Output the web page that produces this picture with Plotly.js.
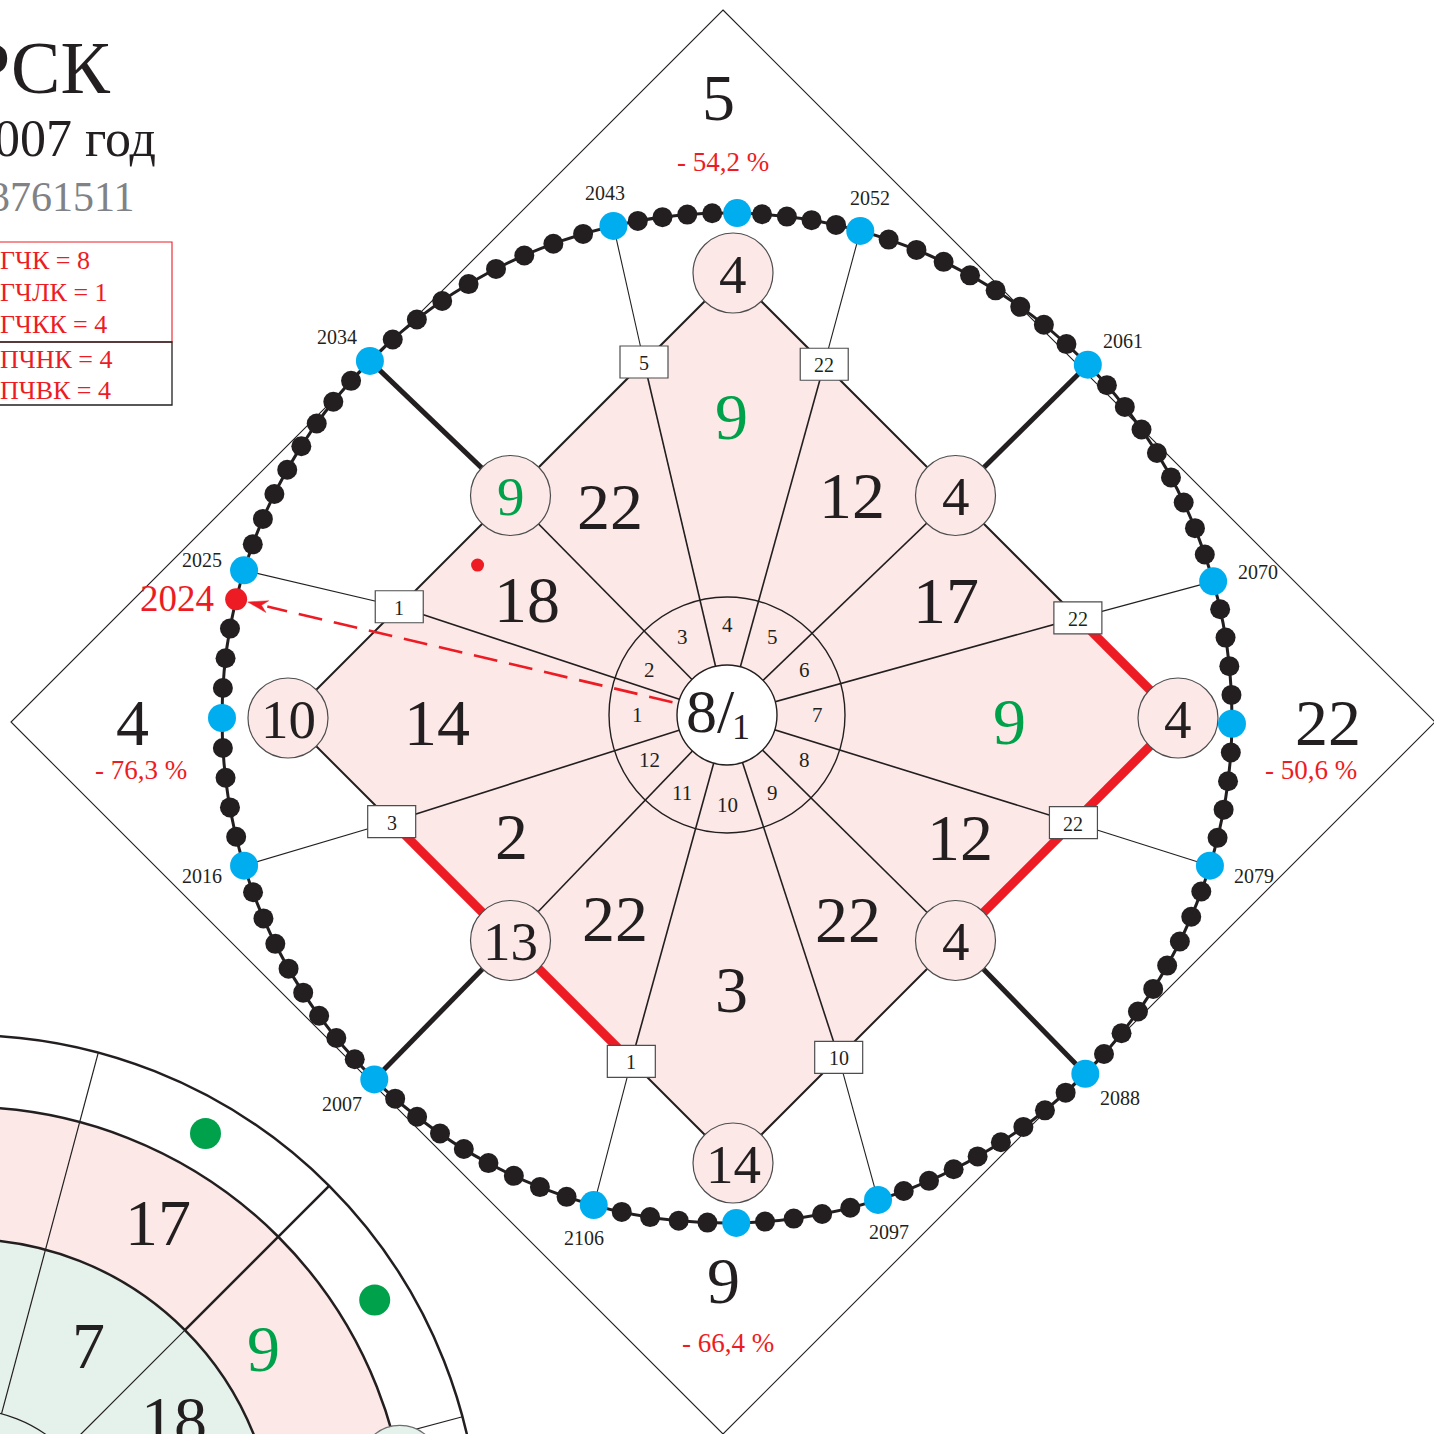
<!DOCTYPE html>
<html><head><meta charset="utf-8">
<script src="https://cdn.plot.ly/plotly-3.0.1.min.js"></script>
<style>html,body{margin:0;padding:0;background:#fff;}#chart{width:1434px;height:1434px;}</style>
</head><body><div id="chart"></div>
<script>
// ================= DATA =================
const titleCity = 'РСК';
const titleYear = '2007 год';
const titleCode = '3761511';
const infoRed = ['ГЧК = 8', 'ГЧЛК = 1', 'ГЧКК = 4'];
const infoBlack = ['ПЧНК = 4', 'ПЧВК = 4'];
const centerMain = '8/';
const centerSub = '1';
const ringLabels = ['1','2','3','4','5','6','7','8','9','10','11','12'];          // from left, clockwise
const sectorValues = ['9','12','17','9','12','22','3','22','2','14','18','22'];    // from top, clockwise
const vertexValues = ['4','4','4','4','14','13','10','9'];                        // top, TR, right, BR, bottom, BL, left, TL
const boxValues = ['22','22','22','10','1','3','1','5'];                          // boxes clockwise from top-right
const blueYears = [2052,2061,2070,2079,2088,2097,2106,2007,2016,2025,2034,2043];   // clockwise from top-right
const currentYear = 2024;
const outerValues = ['5','22','9','4'];                                           // top, right, bottom, left
const outerPercents = ['- 54,2 %','- 50,6 %','- 66,4 %','- 76,3 %'];
const sideValuesPink = ['17','9'];
const sideValuesGreen = ['7','18'];

// ================= LAYOUT GEOMETRY =================
const CX = 727, CY = 718, R = 505;          // year ring
const HX = 727, HY = 715;                   // hub
const DX = 733, DY = 718, D = 445;          // pink diamond
const OX = 723, OY = 722, OD = 712;         // outer diamond
const yearAngle = [15.3,45.6,74.3,107,134.8,162.6,195.3,224.3,253,287,315,347];
const sectorAngle = [0.8,29.6,62.3,91.4,117.8,149.4,179,208.9,240.6,268.6,299.9,330.6];
const sectorRadius = [299,253,247,283,263,238,275,232,247,290,231,239];
const boxEdges = [[0,1,0.41],[2,1,0.45],[2,3,0.47],[4,3,0.475],[4,5,0.457],[6,5,0.466],[6,7,0.50],[0,7,0.40]];
const boxYearIdx = [0,2,3,5,6,8,9,11];
const cornerYearIdx = {1:1, 3:4, 5:7, 7:10};
const BLC = [-35,1550];

const INK = '#231f20', RED = '#ed1c24', GREEN = '#00a14b', BLUE = '#00aeef';
const PINK = '#fce9e7', MINT = '#e5f2eb', GRAY = '#808285';
const FONT = 'Liberation Serif, Times New Roman, serif';

function P(cx, cy, r, deg) { const a = deg*Math.PI/180; return [cx + r*Math.sin(a), cy - r*Math.cos(a)]; }
function lerp(a, b, t) { return [a[0]+(b[0]-a[0])*t, a[1]+(b[1]-a[1])*t]; }

const shapes = [];
function line(p, q, color, width, dash) {
  shapes.push({type:'line', xref:'x', yref:'y', layer:'below', x0:p[0], y0:p[1], x1:q[0], y1:q[1],
    line:{color:color, width:width, dash:dash||'solid'}});
}
function circ(c, r, fill, color, width) {
  shapes.push({type:'circle', xref:'x', yref:'y', layer:'below', x0:c[0]-r, x1:c[0]+r, y0:c[1]-r, y1:c[1]+r,
    fillcolor:fill, line:{color:color, width:width}});
}
function poly(pts, fill, color, width) {
  const d = 'M ' + pts.map(p => p[0].toFixed(2)+' '+p[1].toFixed(2)).join(' L ') + ' Z';
  shapes.push({type:'path', xref:'x', yref:'y', layer:'below', path:d, fillcolor:fill, line:{color:color, width:width}});
}
function rect(x0, y0, x1, y1, fill, color, width) {
  shapes.push({type:'rect', xref:'x', yref:'y', layer:'below', x0, y0, x1, y1, fillcolor:fill, line:{color, width}});
}
const ann = [];
function txt(p, text, size, color, opt) {
  opt = opt || {};
  ann.push(Object.assign({x:p[0], y:p[1], xref:'x', yref:'y', text:text, showarrow:false,
    font:{family:FONT, size:size, color:color}, xanchor:'center', yanchor:'middle'}, opt));
}

// ---------- bottom-left partial chart ----------
circ(BLC, 515, '#ffffff', INK, 2.5);
circ(BLC, 443, PINK, INK, 2.5);
circ(BLC, 311, MINT, INK, 2.5);
circ(BLC, 141, MINT, INK, 1.2);
line(P(BLC[0],BLC[1],141,15), P(BLC[0],BLC[1],515,15), INK, 1.2);
line(P(BLC[0],BLC[1],141,45), P(BLC[0],BLC[1],311,45), INK, 1.2);
line(P(BLC[0],BLC[1],311,45), P(BLC[0],BLC[1],515,45), INK, 2.5);
line(P(BLC[0],BLC[1],141,75), P(BLC[0],BLC[1],515,75), INK, 1.2);
circ(P(BLC[0],BLC[1],443,79), 40, MINT, '#6d6e71', 1.2);
txt(P(BLC[0],BLC[1],380,30.5), sideValuesPink[0], 66, INK);
txt(P(BLC[0],BLC[1],360,56), sideValuesPink[1], 66, GREEN);
txt(P(BLC[0],BLC[1],239,31), sideValuesGreen[0], 66, INK);
txt(P(BLC[0],BLC[1],247,58), sideValuesGreen[1], 66, INK);

// ---------- outer diamond ----------
poly([P(OX,OY,OD,0), P(OX,OY,OD,90), P(OX,OY,OD,180), P(OX,OY,OD,270)], 'rgba(0,0,0,0)', INK, 1.1);

// ---------- pink diamond ----------
const card = [0,90,180,270].map(a => P(DX,DY,D,a));
const verts = [];
for (let i = 0; i < 8; i++) {
  if (i % 2 === 0) verts.push(card[i/2]);
  else { const a = card[(i-1)/2], b = card[((i+1)/2)%4]; verts.push([(a[0]+b[0])/2, (a[1]+b[1])/2]); }
}
poly(card, PINK, INK, 2);

const boxPos = boxEdges.map(e => lerp(verts[e[0]], verts[e[1]], e[2]));
const yearPos = yearAngle.map(a => P(CX,CY,R,a));
const hub = [HX,HY];

// radial lines hub -> boxes / corner circles
const radialEnds = [boxPos[0], verts[1], boxPos[1], boxPos[2], verts[3], boxPos[3], boxPos[4], verts[5], boxPos[5], boxPos[6], verts[7], boxPos[7]];
radialEnds.forEach(e => line(hub, e, INK, 1.6));
circ(hub, 118, 'rgba(0,0,0,0)', INK, 1.4);

// thin connectors boxes -> years
boxPos.forEach((b, i) => line(b, yearPos[boxYearIdx[i]], INK, 1.1));
// thick connectors corners -> years
Object.keys(cornerYearIdx).forEach(k => line(verts[+k], yearPos[cornerYearIdx[k]], INK, 5));

// red highlighted edges
const redPaths = [[boxPos[1], verts[2], verts[3]], [boxPos[5], verts[5], boxPos[4]]];
redPaths.forEach(pp => { for (let i = 0; i < pp.length-1; i++) line(pp[i], pp[i+1], RED, 9); });

// vertex circles
verts.forEach((v, i) => {
  circ(v, 40, PINK, '#4d4d4f', 1.2);
  txt([v[0], v[1]+1], vertexValues[i], 55, vertexValues[i] === '9' ? GREEN : INK);
});
// boxes
boxPos.forEach((b, i) => {
  rect(b[0]-24, b[1]-16, b[0]+24, b[1]+16, '#ffffff', '#4d4d4f', 1.2);
  txt([b[0], b[1]+1], boxValues[i], 20, INK);
});
// center circle
circ(hub, 50, '#ffffff', INK, 1.4);
txt([HX-17, HY-4], centerMain, 62, INK);
txt([HX+14, HY+12], centerSub, 36, INK);

// ring labels
ringLabels.forEach((t, i) => txt(P(HX,HY,90,(270+30*i)%360), t, 21, INK));
// sector numbers
sectorValues.forEach((t, i) => {
  txt(P(HX,HY,sectorRadius[i],sectorAngle[i]), t, 66, t === '9' ? GREEN : INK);
});

// year ring line
circ([CX,CY], R, 'rgba(0,0,0,0)', INK, 3);

// year dots
const bx=[], by=[], bcol=[], bsz=[];
const tx=[], ty=[], tcol=[], tsz=[];
let redPos = null;
for (let k = 0; k < 12; k++) {
  const a0 = yearAngle[k]; let a1 = yearAngle[(k+1)%12]; if (a1 < a0) a1 += 360;
  const hasCard = [0,90,180,270,360].some(c => c > a0 && c < a1);
  const n = hasCard ? 10 : 9;
  for (let j = 1; j < n; j++) {
    const p = P(CX,CY,R,a0+(a1-a0)*j/n);
    const yr = blueYears[k] + (hasCard ? (j < 5 ? j : j-1) : j);
    if (hasCard && j === 5) { tx.push(p[0]); ty.push(p[1]); tcol.push(BLUE); tsz.push(28); }
    else if (yr === currentYear) { redPos = p; tx.push(p[0]); ty.push(p[1]); tcol.push(RED); tsz.push(22); }
    else { bx.push(p[0]); by.push(p[1]); bcol.push(INK); bsz.push(20); }
  }
}
yearPos.forEach(p => { tx.push(p[0]); ty.push(p[1]); tcol.push(BLUE); tsz.push(28); });

// year labels
blueYears.forEach((y, k) => {
  const a = yearAngle[k]*Math.PI/180;
  const p = yearPos[k];
  const s = Math.sin(a), c = Math.cos(a);
  const lp = [p[0] + 38*s + (s > 0.5 ? 8 : (s < -0.5 ? -6 : 0)), p[1] - 34*c];
  txt(lp, String(y), 20, INK);
});

// dashed arrow to current year
const dir = [redPos[0]-HX, redPos[1]-HY]; const L = Math.hypot(dir[0], dir[1]);
const u = [dir[0]/L, dir[1]/L];
const start = [HX+u[0]*56, HY+u[1]*56];
const tip = [redPos[0]-u[0]*12, redPos[1]-u[1]*12];
const base = [tip[0]-u[0]*20, tip[1]-u[1]*20];
const perp = [-u[1], u[0]];
line(start, base, RED, 2.6, '24px,12px');
poly([tip, [base[0]+perp[0]*6, base[1]+perp[1]*6], [tip[0]-u[0]*14, tip[1]-u[1]*14], [base[0]-perp[0]*6, base[1]-perp[1]*6]], RED, RED, 0.5);
txt([redPos[0]-20, redPos[1]-1], String(currentYear), 37, RED, {xanchor:'right'});

// small red marker
const smallRed = P(HX,HY,291,301);

// outer labels
const outerDist = [625, 605, 558, 589];
const pctDist = [560, 590, 621, 586];
const pctShift = [0, -2, 5, 4];
[0,90,180,270].forEach((a, i) => {
  const p = P(OX,OY,outerDist[i],a);
  txt([p[0]-(i===0?5:0)+(i===3?-2:0), p[1]], outerValues[i], 66, INK);
  const q = P(OX,OY,pctDist[i],a);
  txt([q[0]+pctShift[i], q[1]+(i===1||i===3?48:0)], outerPercents[i], 27, RED);
});

// top-left titles
txt([112, 68], titleCity, 74, INK, {xanchor:'right'});
txt([158, 138], titleYear, 52, INK, {xanchor:'right'});
txt([136, 197], titleCode, 42, GRAY, {xanchor:'right'});
rect(-5, 242, 172, 342, 'rgba(0,0,0,0)', RED, 1.1);
rect(-5, 342, 172, 405, 'rgba(0,0,0,0)', INK, 1.3);
infoRed.forEach((t, i) => txt([0.5, 260 + 32*i], t, 26, RED, {xanchor:'left', xshift:-3}));
infoBlack.forEach((t, i) => txt([0.5, 359 + 31*i], t, 26, RED, {xanchor:'left', xshift:-3}));

// bottom-left green markers
const greenDots = [P(BLC[0],BLC[1],481,30), P(BLC[0],BLC[1],480,58.6)];

const traces = [
  {type:'scatter', mode:'markers', x:bx, y:by, marker:{color:bcol, size:bsz, opacity:1, line:{width:0}}, hoverinfo:'skip'},
  {type:'scatter', mode:'markers', x:tx, y:ty, marker:{color:tcol, size:tsz, opacity:1, line:{width:0}}, hoverinfo:'skip'},
  {type:'scatter', mode:'markers', x:[smallRed[0]], y:[smallRed[1]], marker:{color:RED, size:13, opacity:1, line:{width:0}}, hoverinfo:'skip'},
  {type:'scatter', mode:'markers', x:greenDots.map(p=>p[0]), y:greenDots.map(p=>p[1]), marker:{color:GREEN, size:31, opacity:1, line:{width:0}}, hoverinfo:'skip'}
];

const layout = {
  width:1434, height:1434, margin:{l:0,r:0,t:0,b:0,pad:0},
  paper_bgcolor:'#ffffff', plot_bgcolor:'#ffffff', showlegend:false,
  xaxis:{range:[0,1434], visible:false, fixedrange:true},
  yaxis:{range:[1434,0], visible:false, fixedrange:true},
  shapes:shapes, annotations:ann
};
Plotly.newPlot('chart', traces, layout, {staticPlot:true, displayModeBar:false});
</script>
</body></html>
